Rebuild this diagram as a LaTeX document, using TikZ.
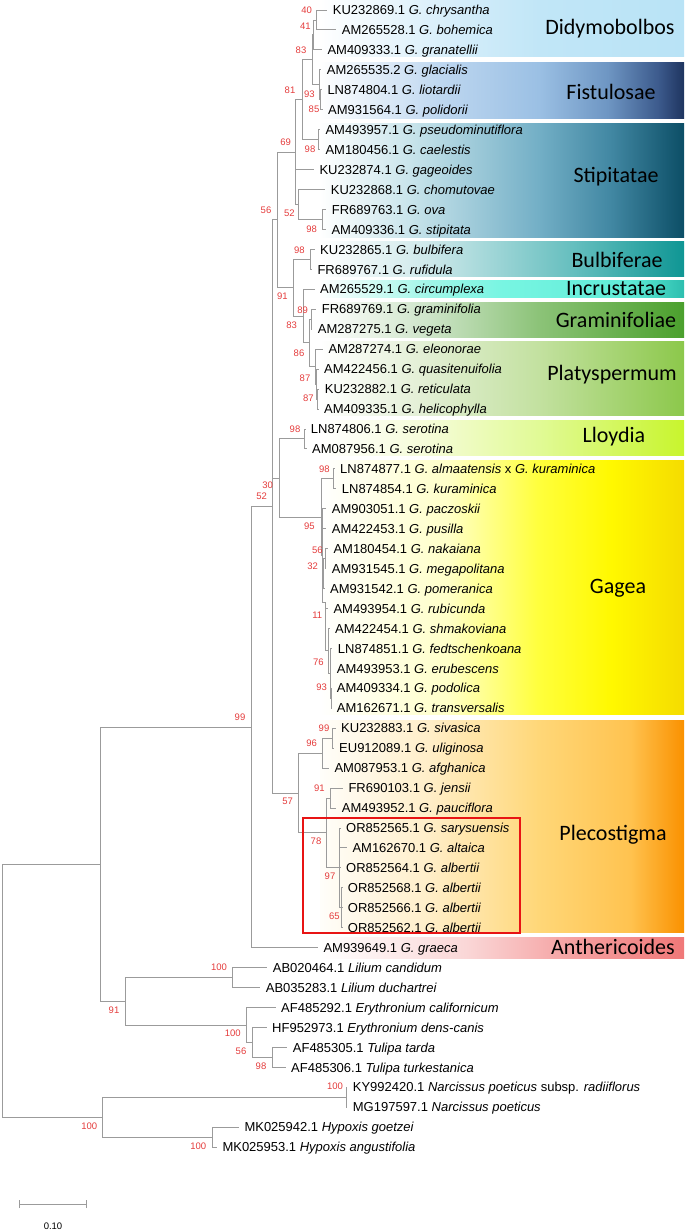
\documentclass[tikz,border=0pt]{standalone}
\usepackage{fontspec}
\setmainfont{Liberation Sans}
\newfontfamily\cladefont{Carlito}
\definecolor{brc}{RGB}{155,155,155}
\definecolor{bsc}{RGB}{228,60,60}
\definecolor{boxred}{RGB}{232,20,20}
% band colours
\definecolor{dd1}{RGB}{215,238,250}\definecolor{dd2}{RGB}{193,230,247}\definecolor{dd3}{RGB}{185,227,246}
\definecolor{fi1}{RGB}{190,215,240}\definecolor{fi2}{RGB}{155,192,228}\definecolor{fi3}{RGB}{110,150,195}\definecolor{fi4}{RGB}{60,90,140}\definecolor{fi5}{RGB}{30,52,95}
\definecolor{st1}{RGB}{200,228,235}\definecolor{st2}{RGB}{115,175,198}\definecolor{st3}{RGB}{65,135,162}\definecolor{st4}{RGB}{12,78,102}
\definecolor{bu1}{RGB}{205,232,234}\definecolor{bu2}{RGB}{100,190,190}\definecolor{bu3}{RGB}{15,150,148}
\definecolor{in1}{RGB}{160,246,232}\definecolor{in2}{RGB}{120,245,226}\definecolor{in3}{RGB}{95,236,215}\definecolor{in4}{RGB}{45,190,175}
\definecolor{gr1}{RGB}{205,228,200}\definecolor{gr2}{RGB}{140,195,120}\definecolor{gr3}{RGB}{75,160,45}
\definecolor{pl1}{RGB}{225,238,210}\definecolor{pl2}{RGB}{195,225,160}\definecolor{pl3}{RGB}{140,200,75}
\definecolor{ll1}{RGB}{245,252,215}\definecolor{ll2}{RGB}{225,250,150}\definecolor{ll3}{RGB}{200,245,45}
\definecolor{ga1}{RGB}{255,255,200}\definecolor{ga2}{RGB}{255,255,60}\definecolor{ga3}{RGB}{255,248,0}\definecolor{ga4}{RGB}{245,220,0}
\definecolor{pe0}{RGB}{255,254,250}\definecolor{pe1}{RGB}{255,238,200}\definecolor{pe2}{RGB}{255,215,120}\definecolor{pe3}{RGB}{255,195,80}\definecolor{pe4}{RGB}{250,145,0}
\definecolor{an1}{RGB}{250,215,215}\definecolor{an2}{RGB}{245,160,160}\definecolor{an3}{RGB}{240,120,120}
\pgfdeclarehorizontalshading{shDidy}{100bp}{color(0bp)=(white); color(25bp)=(white); color(42.5bp)=(dd1); color(55bp)=(dd2); color(75bp)=(dd3); color(100bp)=(dd3)}
\pgfdeclarehorizontalshading{shFist}{100bp}{color(0bp)=(white); color(25bp)=(white); color(41.5bp)=(fi1); color(55bp)=(fi2); color(64.5bp)=(fi3); color(71.5bp)=(fi4); color(75bp)=(fi5); color(100bp)=(fi5)}
\pgfdeclarehorizontalshading{shStip}{100bp}{color(0bp)=(white); color(25bp)=(white); color(37.5bp)=(st1); color(55bp)=(st2); color(65bp)=(st3); color(75bp)=(st4); color(100bp)=(st4)}
\pgfdeclarehorizontalshading{shBulb}{100bp}{color(0bp)=(white); color(25bp)=(white); color(40bp)=(bu1); color(60bp)=(bu2); color(75bp)=(bu3); color(100bp)=(bu3)}
\pgfdeclarehorizontalshading{shIncr}{100bp}{color(0bp)=(white); color(25bp)=(white); color(40bp)=(in1); color(50bp)=(in2); color(67.5bp)=(in3); color(75bp)=(in4); color(100bp)=(in4)}
\pgfdeclarehorizontalshading{shGram}{100bp}{color(0bp)=(white); color(25bp)=(white); color(40bp)=(gr1); color(55bp)=(gr2); color(75bp)=(gr3); color(100bp)=(gr3)}
\pgfdeclarehorizontalshading{shPlat}{100bp}{color(0bp)=(white); color(25bp)=(white); color(40bp)=(pl1); color(55bp)=(pl2); color(75bp)=(pl3); color(100bp)=(pl3)}
\pgfdeclarehorizontalshading{shLloy}{100bp}{color(0bp)=(white); color(25bp)=(white); color(40bp)=(ll1); color(55bp)=(ll2); color(75bp)=(ll3); color(100bp)=(ll3)}
\pgfdeclarehorizontalshading{shGag}{100bp}{color(0bp)=(white); color(25bp)=(white); color(42.5bp)=(ga1); color(55bp)=(ga2); color(65bp)=(ga3); color(75bp)=(ga4); color(100bp)=(ga4)}
\pgfdeclarehorizontalshading{shPlec}{100bp}{color(0bp)=(pe0); color(25bp)=(pe0); color(40bp)=(pe1); color(55bp)=(pe2); color(67.5bp)=(pe3); color(75bp)=(pe4); color(100bp)=(pe4)}
\pgfdeclarehorizontalshading{shAnth}{100bp}{color(0bp)=(white); color(25bp)=(white); color(45bp)=(an1); color(60bp)=(an2); color(75bp)=(an3); color(100bp)=(an3)}
\tikzset{
  br/.style={draw=brc, line width=0.9pt},
  tax/.style={anchor=west, inner sep=0pt, font=\fontsize{13}{13}\selectfont, text height=9.3pt, text depth=0pt},
  bs/.style={anchor=center, inner sep=0pt, text=bsc, font=\fontsize{9.5}{9.5}\selectfont},
  clade/.style={anchor=center, inner sep=0pt, font=\cladefont\fontsize{22}{22}\selectfont}
}
\newcommand{\tip}[2]{\draw[br] (#1) |- ([xshift=-5.5pt]#2.west);}
\newcommand{\edge}[2]{\draw[br] (#1) |- (#2);}
\begin{document}
\begin{tikzpicture}[x=1pt,y=-1pt]
\useasboundingbox (0,0) rectangle (685,1231);
% clade bands
\shade[shading=shDidy] (320,0) rectangle (684,57);
\shade[shading=shFist] (320,63) rectangle (684,118);
\shade[shading=shStip] (320,123) rectangle (684,237);
\shade[shading=shBulb] (320,241) rectangle (684,276);
\shade[shading=shIncr] (320,280) rectangle (684,297);
\shade[shading=shGram] (320,302) rectangle (684,337);
\shade[shading=shPlat] (320,341) rectangle (684,415);
\shade[shading=shLloy] (320,420) rectangle (684,455);
\shade[shading=shGag] (320,460) rectangle (684,714);
\shade[shading=shPlec] (320,720) rectangle (684,932);
\shade[shading=shAnth] (320,937) rectangle (684,958);
% taxa
\node[tax] (t1) at (332.7,10.0) {KU232869.1 \textit{G. chrysantha}};
\node[tax] (t2) at (341.7,29.95) {AM265528.1 \textit{G. bohemica}};
\node[tax] (t3) at (327.3,49.9) {AM409333.1 \textit{G. granatellii}};
\node[tax] (t4) at (326.7,69.85) {AM265535.2 \textit{G. glacialis}};
\node[tax] (t5) at (327.3,89.8) {LN874804.1 \textit{G. liotardii}};
\node[tax] (t6) at (328.0,109.75) {AM931564.1 \textit{G. polidorii}};
\node[tax] (t7) at (325.3,129.7) {AM493957.1 \textit{G. pseudominutiflora}};
\node[tax] (t8) at (325.3,149.65) {AM180456.1 \textit{G. caelestis}};
\node[tax] (t9) at (319.3,169.6) {KU232874.1 \textit{G. gageoides}};
\node[tax] (t10) at (330.7,189.55) {KU232868.1 \textit{G. chomutovae}};
\node[tax] (t11) at (331.7,209.5) {FR689763.1 \textit{G. ova}};
\node[tax] (t12) at (331.3,229.45) {AM409336.1 \textit{G. stipitata}};
\node[tax] (t13) at (320.0,249.4) {KU232865.1 \textit{G. bulbifera}};
\node[tax] (t14) at (317.3,269.35) {FR689767.1 \textit{G. rufidula}};
\node[tax] (t15) at (320.0,289.3) {AM265529.1 \textit{G. circumplexa}};
\node[tax] (t16) at (321.7,309.25) {FR689769.1 \textit{G. graminifolia}};
\node[tax] (t17) at (317.7,329.2) {AM287275.1 \textit{G. vegeta}};
\node[tax] (t18) at (328.3,349.15) {AM287274.1 \textit{G. eleonorae}};
\node[tax] (t19) at (324.0,369.1) {AM422456.1 \textit{G. quasitenuifolia}};
\node[tax] (t20) at (324.7,389.05) {KU232882.1 \textit{G. reticulata}};
\node[tax] (t21) at (324.0,409.0) {AM409335.1 \textit{G. helicophylla}};
\node[tax] (t22) at (310.7,428.95) {LN874806.1 \textit{G. serotina}};
\node[tax] (t23) at (312.0,448.9) {AM087956.1 \textit{G. serotina}};
\node[tax] (t24) at (340.0,468.85) {LN874877.1 \textit{G. almaatensis} x \textit{G. kuraminica}};
\node[tax] (t25) at (341.7,488.8) {LN874854.1 \textit{G. kuraminica}};
\node[tax] (t26) at (331.7,508.75) {AM903051.1 \textit{G. paczoskii}};
\node[tax] (t27) at (331.7,528.7) {AM422453.1 \textit{G. pusilla}};
\node[tax] (t28) at (333.3,548.65) {AM180454.1 \textit{G. nakaiana}};
\node[tax] (t29) at (331.7,568.6) {AM931545.1 \textit{G. megapolitana}};
\node[tax] (t30) at (330.0,588.55) {AM931542.1 \textit{G. pomeranica}};
\node[tax] (t31) at (333.3,608.5) {AM493954.1 \textit{G. rubicunda}};
\node[tax] (t32) at (335.0,628.45) {AM422454.1 \textit{G. shmakoviana}};
\node[tax] (t33) at (337.7,648.4) {LN874851.1 \textit{G. fedtschenkoana}};
\node[tax] (t34) at (336.7,668.35) {AM493953.1 \textit{G. erubescens}};
\node[tax] (t35) at (336.7,688.3) {AM409334.1 \textit{G. podolica}};
\node[tax] (t36) at (336.7,708.25) {AM162671.1 \textit{G. transversalis}};
\node[tax] (t37) at (341.0,728.2) {KU232883.1 \textit{G. sivasica}};
\node[tax] (t38) at (339.0,748.15) {EU912089.1 \textit{G. uliginosa}};
\node[tax] (t39) at (334.3,768.1) {AM087953.1 \textit{G. afghanica}};
\node[tax] (t40) at (348.3,788.05) {FR690103.1 \textit{G. jensii}};
\node[tax] (t41) at (341.7,808.0) {AM493952.1 \textit{G. pauciflora}};
\node[tax] (t42) at (346.0,827.95) {OR852565.1 \textit{G. sarysuensis}};
\node[tax] (t43) at (352.3,847.9) {AM162670.1 \textit{G. altaica}};
\node[tax] (t44) at (346.0,867.85) {OR852564.1 \textit{G. albertii}};
\node[tax] (t45) at (347.7,887.8) {OR852568.1 \textit{G. albertii}};
\node[tax] (t46) at (347.7,907.75) {OR852566.1 \textit{G. albertii}};
\node[tax] (t47) at (347.7,927.7) {OR852562.1 \textit{G. albertii}};
\node[tax] (t48) at (323.3,947.65) {AM939649.1 \textit{G. graeca}};
\node[tax] (t49) at (272.7,967.6) {AB020464.1 \textit{Lilium candidum}};
\node[tax] (t50) at (265.7,987.55) {AB035283.1 \textit{Lilium duchartrei}};
\node[tax] (t51) at (281.0,1007.5) {AF485292.1 \textit{Erythronium californicum}};
\node[tax] (t52) at (272.0,1027.45) {HF952973.1 \textit{Erythronium dens-canis}};
\node[tax] (t53) at (292.7,1047.4) {AF485305.1 \textit{Tulipa tarda}};
\node[tax] (t54) at (291.0,1067.35) {AF485306.1 \textit{Tulipa turkestanica}};
\node[tax] (t55) at (352.7,1087.3) {KY992420.1 \textit{Narcissus poeticus} subsp. \textit{radiiflorus}};
\node[tax] (t56) at (352.7,1107.25) {MG197597.1 \textit{Narcissus poeticus}};
\node[tax] (t57) at (244.3,1127.2) {MK025942.1 \textit{Hypoxis goetzei}};
\node[tax] (t58) at (222.3,1147.15) {MK025953.1 \textit{Hypoxis angustifolia}};
% internal nodes
\coordinate (root) at (2,990.6);
\coordinate (ing) at (100,864);
\coordinate (out) at (102,1117.2);
\coordinate (g99) at (251,727);
\coordinate (nle) at (125,1001.3);
\coordinate (n52) at (272.5,506.5);
\coordinate (n56) at (277,219.9);
\coordinate (n69) at (295.5,152.1);
\coordinate (n81) at (302,99.8);
\coordinate (n83) at (312,59.9);
\coordinate (n41) at (313.5,34.9);
\coordinate (n40) at (316,20.0);
\coordinate (n93) at (319.5,84.8);
\coordinate (n85) at (320.8,99.8);
\coordinate (n98a) at (318.8,139.7);
\coordinate (n52b) at (298,204.5);
\coordinate (n98b) at (322,219.5);
\coordinate (n91) at (293,287.7);
\coordinate (nb98) at (310,259.4);
\coordinate (n83b) at (303,316.1);
\coordinate (n83c) at (309,342.9);
\coordinate (n89) at (311,319.2);
\coordinate (np86) at (315.5,366.6);
\coordinate (np87b) at (316.8,384.1);
\coordinate (np87a) at (317.8,399.0);
\coordinate (n30) at (279.5,478);
\coordinate (ns98) at (304.5,438.9);
\coordinate (gs) at (321,517);
\coordinate (nalm) at (333.5,478.8);
\coordinate (g2) at (322.7,555.4);
\coordinate (n32) at (323.8,573.6);
\coordinate (n56g) at (325.2,558.6);
\coordinate (n11) at (325.5,602);
\coordinate (nsh) at (328.3,650.9);
\coordinate (n76) at (330.3,673.3);
\coordinate (n93g) at (331,698.3);
\coordinate (n57) at (298,793);
\coordinate (n96) at (322.7,753.2);
\coordinate (n99p) at (332.5,738.2);
\coordinate (n78) at (326.7,832.9);
\coordinate (n91p) at (330,798);
\coordinate (n97) at (339.5,867.9);
\coordinate (n65) at (341.5,907.8);
\coordinate (nli) at (232,977.6);
\coordinate (ne100) at (246,1025);
\coordinate (n56e) at (252,1042.4);
\coordinate (n98t) at (272,1057.4);
\coordinate (nnar) at (346.3,1097.3);
\coordinate (nhyp) at (212,1137.2);
% branches
\edge{root}{ing}\edge{root}{out}
\edge{ing}{g99}\edge{ing}{nle}
\edge{g99}{n52}\tip{g99}{t48}
\edge{n52}{n56}\edge{n52}{n30}\edge{n52}{n57}
\edge{n56}{n69}\edge{n56}{n91}
\edge{n69}{n81}\tip{n69}{t9}\edge{n69}{n52b}
\edge{n81}{n83}\edge{n81}{n98a}
\edge{n83}{n41}\edge{n83}{n93}
\edge{n41}{n40}\tip{n41}{t3}
\tip{n40}{t1}\tip{n40}{t2}
\tip{n93}{t4}\edge{n93}{n85}
\tip{n85}{t5}\tip{n85}{t6}
\tip{n98a}{t7}\tip{n98a}{t8}
\tip{n52b}{t10}\edge{n52b}{n98b}
\tip{n98b}{t11}\tip{n98b}{t12}
\edge{n91}{nb98}\edge{n91}{n83b}
\tip{nb98}{t13}\tip{nb98}{t14}
\tip{n83b}{t15}\edge{n83b}{n83c}
\edge{n83c}{n89}\edge{n83c}{np86}
\tip{n89}{t16}\tip{n89}{t17}
\tip{np86}{t18}\edge{np86}{np87b}
\tip{np87b}{t19}\edge{np87b}{np87a}
\tip{np87a}{t20}\tip{np87a}{t21}
\edge{n30}{ns98}\edge{n30}{gs}
\tip{ns98}{t22}\tip{ns98}{t23}
\edge{gs}{nalm}\edge{gs}{g2}
\tip{nalm}{t24}\tip{nalm}{t25}
\tip{g2}{t26}\tip{g2}{t27}\edge{g2}{n32}\edge{g2}{n11}
\edge{n32}{n56g}\tip{n32}{t30}
\tip{n56g}{t28}\tip{n56g}{t29}
\tip{n11}{t31}\edge{n11}{nsh}
\tip{nsh}{t32}\edge{nsh}{n76}
\tip{n76}{t33}\tip{n76}{t34}\edge{n76}{n93g}
\tip{n93g}{t35}\tip{n93g}{t36}
\edge{n57}{n96}\edge{n57}{n78}
\edge{n96}{n99p}\tip{n96}{t39}
\tip{n99p}{t37}\tip{n99p}{t38}
\edge{n78}{n91p}\edge{n78}{n97}
\tip{n91p}{t40}\tip{n91p}{t41}
\tip{n97}{t42}\tip{n97}{t43}\tip{n97}{t44}\edge{n97}{n65}
\tip{n65}{t45}\tip{n65}{t46}\tip{n65}{t47}
\edge{nle}{nli}\edge{nle}{ne100}
\tip{nli}{t49}\tip{nli}{t50}
\tip{ne100}{t51}\edge{ne100}{n56e}
\tip{n56e}{t52}\edge{n56e}{n98t}
\tip{n98t}{t53}\tip{n98t}{t54}
\edge{out}{nnar}\edge{out}{nhyp}
\tip{nnar}{t55}\tip{nnar}{t56}
\tip{nhyp}{t57}\tip{nhyp}{t58}
% bootstrap values
\node[bs] (b1) at (306.7,10) {40};
\node[bs] (b2) at (305.3,26) {41};
\node[bs] (b3) at (301,50.7) {83};
\node[bs] (b4) at (290,90) {81};
\node[bs] (b5) at (309.3,94.3) {93};
\node[bs] (b6) at (314,109.3) {85};
\node[bs] (b7) at (285.7,142.7) {69};
\node[bs] (b8) at (310,149.3) {98};
\node[bs] (b9) at (266,210) {56};
\node[bs] (b10) at (289.3,213.3) {52};
\node[bs] (b11) at (311.7,229.3) {98};
\node[bs] (b12) at (299.3,250) {98};
\node[bs] (b13) at (282.3,296.7) {91};
\node[bs] (b14) at (302.7,310) {89};
\node[bs] (b15) at (291.7,325.7) {83};
\node[bs] (b16) at (299,353.3) {86};
\node[bs] (b17) at (305,378.3) {87};
\node[bs] (b18) at (308.3,398.3) {87};
\node[bs] (b19) at (295,429) {98};
\node[bs] (b20) at (324.3,469) {98};
\node[bs] (b21) at (267.7,485) {30};
\node[bs] (b22) at (261.7,496) {52};
\node[bs] (b23) at (309.3,526.7) {95};
\node[bs] (b24) at (317.3,550) {56};
\node[bs] (b25) at (312.7,566.7) {32};
\node[bs] (b26) at (317.3,615.7) {11};
\node[bs] (b27) at (318.3,662.7) {76};
\node[bs] (b28) at (321.7,687.7) {93};
\node[bs] (b29) at (240,716.8) {99};
\node[bs] (b30) at (324,728.3) {99};
\node[bs] (b31) at (311.7,743.3) {96};
\node[bs] (b32) at (319.3,788.3) {91};
\node[bs] (b33) at (287.7,801.7) {57};
\node[bs] (b34) at (316,841.7) {78};
\node[bs] (b35) at (330,876.7) {97};
\node[bs] (b36) at (334.3,916.7) {65};
\node[bs] (b37) at (219,967.3) {100};
\node[bs] (b38) at (114,1010) {91};
\node[bs] (b39) at (232.7,1033.3) {100};
\node[bs] (b40) at (241,1051) {56};
\node[bs] (b41) at (261,1066) {98};
\node[bs] (b42) at (335,1086.7) {100};
\node[bs] (b43) at (89.3,1126) {100};
\node[bs] (b44) at (198.3,1146) {100};
% clade names
\node[clade] (c1) at (610,29) {Didymobolbos};
\node[clade] (c2) at (611,92) {Fistulosae};
\node[clade] (c3) at (616,177) {Stipitatae};
\node[clade] (c4) at (617,260) {Bulbiferae};
\node[clade] (c5) at (616,289) {Incrustatae};
\node[clade] (c6) at (616,320) {Graminifoliae};
\node[clade] (c7) at (612,375) {Platyspermum};
\node[clade] (c8) at (614,437) {Lloydia};
\node[clade] (c9) at (618,588) {Gagea};
\node[clade] (c10) at (613,835) {Plecostigma};
\node[clade] (c11) at (613,947) {Anthericoides};
% highlight box
\draw[boxred, line width=1.6pt] (303,818) rectangle (520,933);
% scale bar
\coordinate (sb1) at (19,1204);
\coordinate (sb2) at (86,1204);
\draw[br] (sb1) -- (sb2);
\draw[br] ([yshift=-4pt]sb1) -- ([yshift=4pt]sb1);
\draw[br] ([yshift=-4pt]sb2) -- ([yshift=4pt]sb2);
\node[anchor=center, inner sep=0pt, font=\fontsize{9.5}{9.5}\selectfont] (sbl) at (53,1226) {0.10};
\end{tikzpicture}
\end{document}
